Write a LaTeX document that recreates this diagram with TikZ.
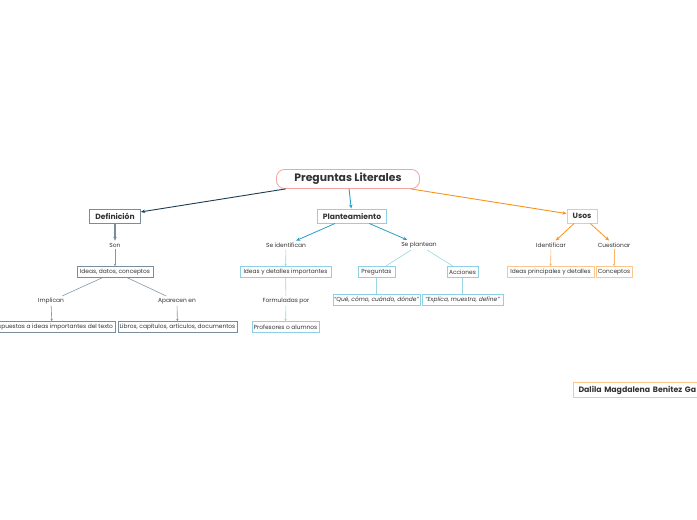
\documentclass[tikz,border=0pt]{standalone}
\usepackage{fontspec}
\setmainfont{Poppins}
\usetikzlibrary{arrows.meta}
\definecolor{txt}{HTML}{333333}
\definecolor{rootc}{HTML}{F4A3A3}
\definecolor{defc}{HTML}{7A8D9C}
\definecolor{defline}{HTML}{1D3D52}
\definecolor{defsub}{HTML}{8597A5}
\definecolor{planc}{HTML}{8ED0E4}
\definecolor{planline}{HTML}{2A9FC6}
\definecolor{plansub}{HTML}{9AD5E6}
\definecolor{usosc}{HTML}{FBC68C}
\definecolor{usosline}{HTML}{F7941D}
\definecolor{usossub}{HTML}{F9B56A}
\tikzset{
  sbox/.style={draw, rectangle, minimum height=11pt, inner sep=1pt, text=txt, font=\fontsize{5.9}{6.5}\selectfont, line width=0.8pt},
  mbox/.style={draw, rectangle, minimum height=14pt, inner sep=1pt, text=txt, font=\fontsize{7.6}{8.5}\selectfont\bfseries, line width=1pt},
  lbl/.style={inner sep=2pt, text=txt, font=\fontsize{5.9}{6.5}\selectfont},
  bigarrow/.style={-{Stealth[length=4pt,width=3.5pt]}, line width=0.9pt},
  smallarrow/.style={-{Stealth[length=2.5pt,width=2.5pt]}, line width=0.6pt},
  plainline/.style={line width=0.6pt},
}
\begin{document}
\begin{tikzpicture}[x=1pt,y=-1pt]
\useasboundingbox[fill=white] (0,0) rectangle (697,520);

% root
\node[draw=rootc, line width=0.8pt, rounded corners=8pt, minimum width=143pt, minimum height=19pt, text=txt, font=\fontsize{10.8}{12}\selectfont\bfseries] (root) at (348,179) {Preguntas Literales};

% main topics
\node[mbox, draw=defc, minimum width=51pt] (def) at (115,216) {Definición};
\node[mbox, draw=planc, minimum width=69pt] (plan) at (352,216) {Planteamiento};
\node[mbox, draw=usosc, minimum width=30pt] (usos) at (582,216) {Usos};

\draw[bigarrow, defline] (root) -- (def);
\draw[bigarrow, planline] (root) -- (plan);
\draw[bigarrow, usosline] (root) -- (usos);

% Definicion branch
\node[lbl] (son) at (115,245) {Son};
\node[sbox, draw=defc, minimum width=76pt] (ideas) at (115,272) {Ideas, datos, conceptos};
\node[lbl] (impl) at (51,301) {Implican};
\node[lbl] (apar) at (177,301) {Aparecen en};
\node[sbox, draw=defc, minimum width=127pt] (resp) at (52,327) {Respuestas a ideas importantes del texto};
\node[sbox, draw=defc, minimum width=119pt] (libros) at (177.5,327) {Libros, capítulos, artículos, documentos};

\draw[-{Stealth[length=4pt,width=3.5pt]}, line width=1.6pt, defc] (def) -- (son);
\draw[smallarrow, defsub] (son) -- (ideas);
\draw[plainline, defsub] (ideas) -- (impl);
\draw[plainline, defsub] (ideas) -- (apar);
\draw[smallarrow, defsub] (impl) -- (resp);
\draw[smallarrow, defsub] (apar) -- (libros);

% Planteamiento branch
\node[lbl] (seid) at (286,245) {Se identifican};
\node[lbl] (sepl) at (419,245) {Se plantean};
\node[sbox, draw=planc, minimum width=91pt] (ideasdet) at (285.5,272) {Ideas y detalles importantes};
\node[lbl] (form) at (286,301) {Formuladas por};
\node[sbox, draw=planc, minimum width=67pt] (prof) at (285.5,327) {Profesores o alumnos};
\node[sbox, draw=planc, minimum width=37pt] (preg) at (376.5,272) {Preguntas};
\node[sbox, draw=planc, minimum width=31pt] (acc) at (462.5,272) {Acciones};
\node[sbox, draw=planc, minimum width=87pt, font=\fontsize{5.9}{6.5}\selectfont\itshape] (que) at (376.5,300) {“Qué, cómo, cuándo, dónde”};
\node[sbox, draw=planc, minimum width=81pt, font=\fontsize{5.9}{6.5}\selectfont\itshape] (expl) at (462.5,300) {“Explica, muestra, define”};

\draw[bigarrow, planline, line width=0.8pt] (plan) -- (seid);
\draw[bigarrow, planline, line width=0.8pt] (plan) -- (sepl);
\draw[smallarrow, plansub] (seid) -- (ideasdet);
\draw[plainline, plansub] (ideasdet) -- (form);
\draw[smallarrow, plansub] (form) -- (prof);
\draw[plainline, plansub] (sepl) -- (preg);
\draw[plainline, plansub] (sepl) -- (acc);
\draw[plainline, plansub] (preg) -- (que);
\draw[plainline, plansub] (acc) -- (expl);

% Usos branch
\node[lbl] (ident) at (551,245) {Identificar};
\node[lbl] (cuest) at (614,245) {Cuestionar};
\node[sbox, draw=usosc, minimum width=87pt] (idp) at (550.5,272) {Ideas principales y detalles};
\node[sbox, draw=usosc, minimum width=36pt] (conc) at (614,272) {Conceptos};

\draw[bigarrow, usosline, line width=0.8pt] (usos) -- (ident);
\draw[bigarrow, usosline, line width=0.8pt] (usos) -- (cuest);
\draw[smallarrow, usossub] (ident) -- (idp);
\draw[smallarrow, usossub] (cuest) -- (conc);

% author
\node[draw=usosc, line width=1pt, minimum height=14pt, inner xsep=5pt, anchor=west, align=left, text width=150pt, text=txt, font=\fontsize{7.8}{8.5}\selectfont\bfseries] (author) at (573,390) {Dalila Magdalena Benitez Ga};
\end{tikzpicture}
\end{document}
